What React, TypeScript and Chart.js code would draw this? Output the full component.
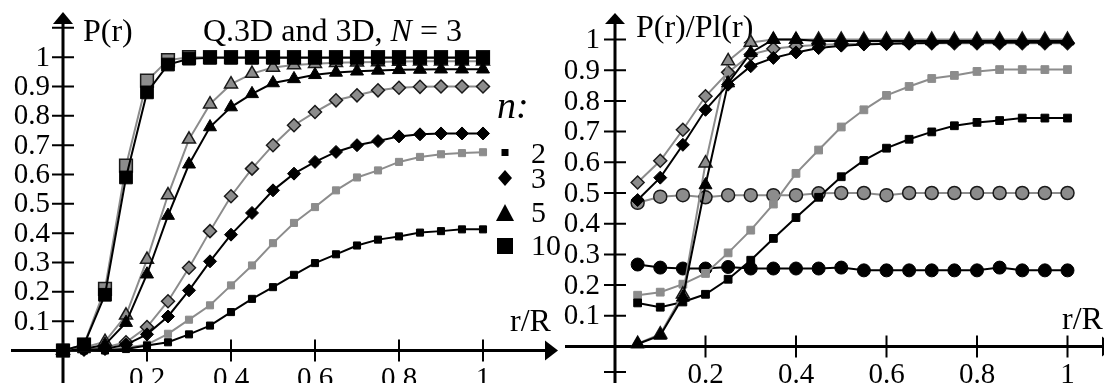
import React, { useEffect, useRef } from "react";
import { Chart, registerables } from "chart.js";
Chart.register(...registerables);

// ---------- data ----------
const leftR = [0, 0.05, 0.1, 0.15, 0.2, 0.25, 0.3, 0.35, 0.4, 0.45, 0.5, 0.55, 0.6, 0.65, 0.7, 0.75, 0.8, 0.85, 0.9, 0.95, 1];
const rightR = [0.05, 0.1, 0.15, 0.2, 0.25, 0.3, 0.35, 0.4, 0.45, 0.5, 0.55, 0.6, 0.65, 0.7, 0.75, 0.8, 0.85, 0.9, 0.95, 1];

// P(r): gray = Q.3D, black = 3D
const pN10Gray = [0, 0.02, 0.21, 0.63, 0.92, 0.99, 1, 1, 1, 1, 1, 1, 1, 1, 1, 1, 1, 1, 1, 1, 1];
const pN10Black = [0, 0.02, 0.19, 0.59, 0.88, 0.975, 0.995, 0.998, 0.998, 0.998, 0.998, 0.998, 0.998, 0.998, 0.998, 0.998, 0.998, 0.998, 0.998, 0.998, 0.998];
const pN5Gray = [0, 0.01, 0.03, 0.12, 0.31, 0.53, 0.72, 0.84, 0.908, 0.944, 0.965, 0.973, 0.978, 0.981, 0.983, 0.984, 0.985, 0.986, 0.986, 0.986, 0.986];
const pN5Black = [0, 0.005, 0.02, 0.095, 0.26, 0.46, 0.635, 0.762, 0.83, 0.875, 0.912, 0.926, 0.94, 0.948, 0.952, 0.955, 0.957, 0.958, 0.959, 0.959, 0.959];
const pN3Gray = [0, 0.005, 0.01, 0.028, 0.08, 0.168, 0.282, 0.407, 0.526, 0.62, 0.7, 0.768, 0.813, 0.853, 0.87, 0.887, 0.896, 0.899, 0.9, 0.9, 0.9];
const pN3Black = [0, 0.002, 0.005, 0.02, 0.055, 0.116, 0.205, 0.304, 0.395, 0.469, 0.546, 0.603, 0.643, 0.677, 0.7, 0.714, 0.73, 0.737, 0.74, 0.74, 0.74];
const pN2Gray = [0, 0, 0.002, 0.01, 0.02, 0.057, 0.105, 0.154, 0.222, 0.29, 0.366, 0.435, 0.489, 0.546, 0.59, 0.614, 0.643, 0.66, 0.669, 0.673, 0.676];
const pN2Black = [0, 0, 0, 0.005, 0.017, 0.028, 0.055, 0.085, 0.131, 0.176, 0.216, 0.258, 0.298, 0.328, 0.358, 0.378, 0.389, 0.402, 0.407, 0.413, 0.413];

// P(r)/Pl(r)
const rCircGray = [0.468, 0.488, 0.493, 0.486, 0.493, 0.493, 0.493, 0.493, 0.499, 0.5, 0.5, 0.493, 0.5, 0.5, 0.5, 0.5, 0.5, 0.5, 0.5, 0.5];
const rCircBlack = [0.267, 0.257, 0.254, 0.254, 0.259, 0.254, 0.254, 0.254, 0.254, 0.257, 0.248, 0.248, 0.248, 0.248, 0.248, 0.248, 0.257, 0.248, 0.248, 0.248];
const rSqGray = [0.167, 0.177, 0.203, 0.238, 0.305, 0.379, 0.464, 0.564, 0.64, 0.715, 0.771, 0.818, 0.847, 0.873, 0.883, 0.896, 0.902, 0.902, 0.902, 0.902];
const rSqBlack = [0.142, 0.128, 0.145, 0.17, 0.219, 0.281, 0.352, 0.42, 0.486, 0.553, 0.606, 0.646, 0.675, 0.699, 0.719, 0.73, 0.736, 0.744, 0.744, 0.744];
const rDiaGray = [0.534, 0.605, 0.706, 0.815, 0.893, 0.951, 0.97, 0.978, 0.982, 0.985, 0.986, 0.987, 0.988, 0.988, 0.988, 0.988, 0.988, 0.988, 0.988, 0.988];
const rDiaBlack = [0.477, 0.55, 0.657, 0.771, 0.853, 0.913, 0.94, 0.958, 0.972, 0.98, 0.984, 0.986, 0.988, 0.989, 0.99, 0.99, 0.99, 0.99, 0.99, 0.99];
const rTriGray = [0.009, 0.04, 0.17, 0.597, 0.93, 0.99, 1, 1, 1, 1, 1, 1, 1, 1, 1, 1, 1, 1, 1, 1];
const rTriBlack = [0.008, 0.036, 0.16, 0.526, 0.858, 0.957, 1, 1, 0.995, 0.995, 0.995, 0.995, 0.995, 0.995, 0.995, 0.995, 0.995, 0.995, 0.995, 0.995];

const xTicks = [0.2, 0.4, 0.6, 0.8, 1];
const xTickLabels = ["0.2", "0.4", "0.6", "0.8", "1"];
const yTicks = [0.1, 0.2, 0.3, 0.4, 0.5, 0.6, 0.7, 0.8, 0.9, 1];
const yTickLabels = ["0.1", "0.2", "0.3", "0.4", "0.5", "0.6", "0.7", "0.8", "0.9", "1"];
const legendN = ["2", "3", "5", "10"];

const GRAY = "#8c8c8c";
const SERIF = "'Liberation Serif', 'DejaVu Serif', serif";

function series(xs: number[], ys: number[], gray: boolean, style: string, radius: number, outline: boolean, order: number) {
  return {
    data: xs.map((x, i) => ({ x, y: ys[i] })),
    borderColor: gray ? GRAY : "#000",
    borderWidth: 2,
    pointStyle: style,
    pointRadius: radius,
    pointBackgroundColor: gray ? GRAY : "#000",
    pointBorderColor: gray ? (outline ? "#1a1a1a" : GRAY) : "#000",
    pointBorderWidth: gray && outline ? 1.5 : 1,
    tension: 0,
    order,
  };
}

type AxisCfg = {
  xStart: number;
  xArrowBase: number;
  xArrowTip: number;
  yArrowTip: number;
  yArrowBase: number;
  extraYTicks: number[];
  yLabelRight: number;
  title: string;
  titleX: number;
  titleY: number;
  rrX: number;
  rrY: number;
};

function axesPlugin(cfg: AxisCfg, extra?: (ctx: CanvasRenderingContext2D) => void) {
  return {
    id: "axesPlugin",
    beforeDatasetsDraw(chart: any) {
      const ctx: CanvasRenderingContext2D = chart.ctx;
      const xs = chart.scales.x;
      const ys = chart.scales.y;
      const x0 = xs.getPixelForValue(0);
      const y0 = ys.getPixelForValue(0);
      ctx.save();
      ctx.strokeStyle = "#000";
      ctx.fillStyle = "#000";
      ctx.lineWidth = 3;
      ctx.beginPath();
      ctx.moveTo(cfg.xStart, y0);
      ctx.lineTo(cfg.xArrowBase + 2, y0);
      ctx.moveTo(x0, chart.height);
      ctx.lineTo(x0, cfg.yArrowBase - 2);
      ctx.stroke();
      ctx.beginPath();
      ctx.moveTo(cfg.xArrowTip, y0);
      ctx.lineTo(cfg.xArrowBase, y0 - 10);
      ctx.lineTo(cfg.xArrowBase, y0 + 10);
      ctx.closePath();
      ctx.fill();
      ctx.beginPath();
      ctx.moveTo(x0, cfg.yArrowTip);
      ctx.lineTo(x0 - 10, cfg.yArrowBase);
      ctx.lineTo(x0 + 10, cfg.yArrowBase);
      ctx.closePath();
      ctx.fill();
      ctx.lineWidth = 2;
      ctx.beginPath();
      xTicks.forEach((v) => {
        const px = xs.getPixelForValue(v);
        ctx.moveTo(px, y0 - 11);
        ctx.lineTo(px, y0 + 11);
      });
      [...yTicks, ...cfg.extraYTicks].forEach((v) => {
        const py = ys.getPixelForValue(v);
        ctx.moveTo(x0 - 11, py);
        ctx.lineTo(x0 + 11, py);
      });
      ctx.stroke();
      ctx.font = `29px ${SERIF}`;
      ctx.textAlign = "center";
      ctx.textBaseline = "alphabetic";
      xTicks.forEach((v, i) => {
        ctx.fillText(xTickLabels[i], xs.getPixelForValue(v), y0 + 36);
      });
      ctx.textAlign = "right";
      ctx.textBaseline = "middle";
      yTicks.forEach((v, i) => {
        ctx.fillText(yTickLabels[i], cfg.yLabelRight, ys.getPixelForValue(v) + 1);
      });
      ctx.font = `32px ${SERIF}`;
      ctx.textAlign = "left";
      ctx.textBaseline = "alphabetic";
      ctx.fillText(cfg.title, cfg.titleX, cfg.titleY);
      ctx.fillText("r/R", cfg.rrX, cfg.rrY);
      if (extra) extra(ctx);
      ctx.restore();
    },
  };
}

function drawLegend(ctx: CanvasRenderingContext2D) {
  let x = 203;
  const by = 41;
  ctx.font = `32px ${SERIF}`;
  const a = "Q.3D and 3D, ";
  ctx.fillText(a, x, by);
  x += ctx.measureText(a).width;
  ctx.font = `italic 32px ${SERIF}`;
  ctx.fillText("N", x, by);
  x += ctx.measureText("N").width;
  ctx.font = `32px ${SERIF}`;
  ctx.fillText(" = 3", x, by);

  ctx.font = `italic 38px ${SERIF}`;
  ctx.fillText("n:", 497, 118);
  ctx.font = `30px ${SERIF}`;
  const cx = 505;
  const baselines = [163, 188, 222, 255];
  legendN.forEach((t, i) => ctx.fillText(t, 531, baselines[i]));
  ctx.fillRect(cx - 3.5, 149, 7, 7);
  ctx.beginPath();
  ctx.moveTo(cx, 170);
  ctx.lineTo(cx + 7, 178);
  ctx.lineTo(cx, 186);
  ctx.lineTo(cx - 7, 178);
  ctx.closePath();
  ctx.fill();
  ctx.beginPath();
  ctx.moveTo(cx, 204);
  ctx.lineTo(cx + 9, 221);
  ctx.lineTo(cx - 9, 221);
  ctx.closePath();
  ctx.fill();
  ctx.fillRect(cx - 8, 238, 16, 16);
}

function useChart(ref: React.RefObject<HTMLCanvasElement | null>, make: (c: HTMLCanvasElement) => Chart) {
  useEffect(() => {
    if (!ref.current) return;
    const ch = make(ref.current);
    return () => ch.destroy();
  }, []);
}

const baseOptions = (xmin: number, xmax: number, ymin: number, ymax: number) => ({
  animation: false as const,
  responsive: false,
  maintainAspectRatio: false,
  layout: { padding: 0, autoPadding: false },
  events: [],
  clip: false,
  plugins: { legend: { display: false }, tooltip: { enabled: false }, title: { display: false } },
  scales: {
    x: { type: "linear" as const, min: xmin, max: xmax, display: false },
    y: { type: "linear" as const, min: ymin, max: ymax, display: false },
  },
});

export default function App() {
  const leftRef = useRef<HTMLCanvasElement>(null);
  const rightRef = useRef<HTMLCanvasElement>(null);

  useChart(leftRef, (c) =>
    new Chart(c, {
      type: "line",
      data: {
        datasets: [
          series(leftR, pN10Black, false, "rect", 9, true, 1),
          series(leftR, pN10Gray, true, "rect", 9, true, 2),
          series(leftR, pN5Black, false, "triangle", 7.5, true, 3),
          series(leftR, pN5Gray, true, "triangle", 7.5, true, 4),
          series(leftR, pN3Black, false, "rectRot", 6.5, true, 5),
          series(leftR, pN3Gray, true, "rectRot", 6.5, true, 6),
          series(leftR, pN2Black, false, "rect", 5, false, 7),
          series(leftR, pN2Gray, true, "rect", 5, false, 8),
        ] as any,
      },
      options: baseOptions(-63 / 420, 497 / 420, (350.5 - 383) / 293.3, 350.5 / 293.3) as any,
      plugins: [
        axesPlugin(
          {
            xStart: 11,
            xArrowBase: 545,
            xArrowTip: 558,
            yArrowTip: 12,
            yArrowBase: 24,
            extraYTicks: [1.1],
            yLabelRight: 50,
            title: "P(r)",
            titleX: 83,
            titleY: 41,
            rrX: 510,
            rrY: 331,
          },
          drawLegend
        ),
      ],
    })
  );

  useChart(rightRef, (c) =>
    new Chart(c, {
      type: "line",
      data: {
        datasets: [
          series(rightR, rTriBlack, false, "triangle", 7.5, true, 1),
          series(rightR, rDiaBlack, false, "rectRot", 6.5, true, 2),
          series(rightR, rTriGray, true, "triangle", 7.5, true, 3),
          series(rightR, rDiaGray, true, "rectRot", 6.5, true, 4),
          series(rightR, rSqBlack, false, "rect", 5.5, false, 5),
          series(rightR, rSqGray, true, "rect", 5.5, false, 6),
          series(rightR, rCircBlack, false, "circle", 6.5, true, 7),
          series(rightR, rCircGray, true, "circle", 6.5, true, 8),
        ] as any,
      },
      options: baseOptions(-55 / 452.5, 489 / 452.5, (346.5 - 383) / 307, 346.5 / 307) as any,
      plugins: [
        axesPlugin({
          xStart: 5,
          xArrowBase: 542,
          xArrowTip: 556,
          yArrowTip: 13,
          yArrowBase: 24,
          extraYTicks: [-0.083],
          yLabelRight: 40,
          title: "P(r)/Pl(r)",
          titleX: 76,
          titleY: 37,
          rrX: 502,
          rrY: 329,
        }),
      ],
    })
  );

  return (
    <div style={{ position: "absolute", left: 0, top: 0, width: 1104, height: 383, background: "#fff", overflow: "hidden" }}>
      <canvas ref={leftRef} width={560} height={383} style={{ position: "absolute", left: 0, top: 0, width: 560, height: 383 }} />
      <canvas ref={rightRef} width={544} height={383} style={{ position: "absolute", left: 560, top: 0, width: 544, height: 383 }} />
    </div>
  );
}
